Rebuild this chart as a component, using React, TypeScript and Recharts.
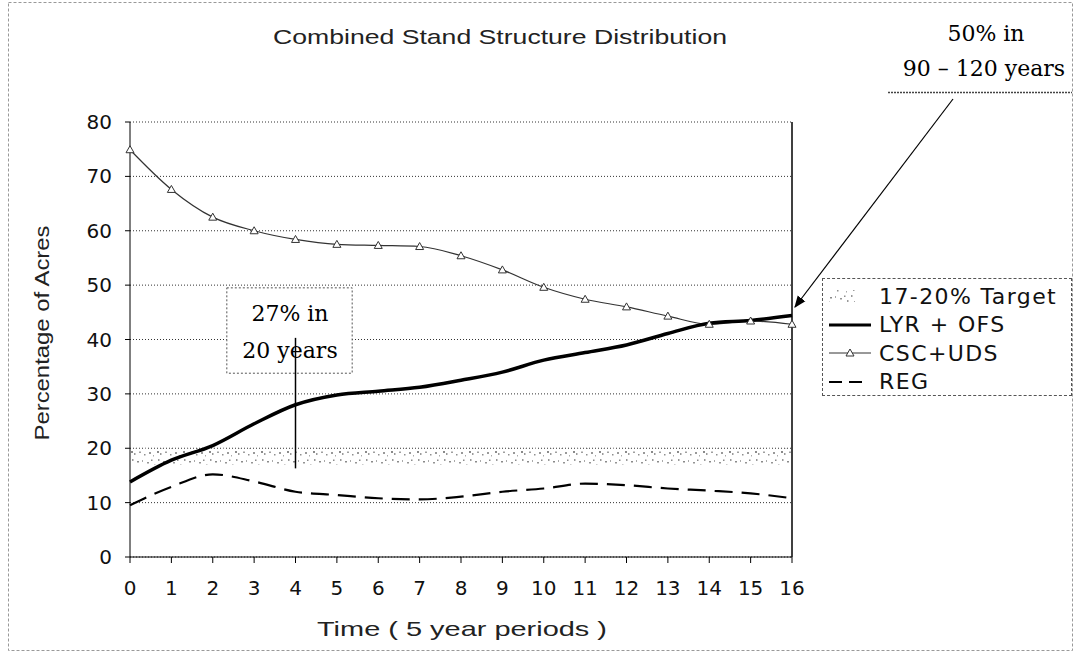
import {
  ComposedChart,
  Line,
  Area,
  XAxis,
  YAxis,
  CartesianGrid,
  ReferenceLine,
  ReferenceArea,
  Legend,
} from "recharts";

const periods = [0, 1, 2, 3, 4, 5, 6, 7, 8, 9, 10, 11, 12, 13, 14, 15, 16];
const lyrOfs = [13.8, 17.8, 20.5, 24.5, 28, 29.8, 30.5, 31.2, 32.5, 34, 36.2, 37.6, 39, 41.1, 43, 43.5, 44.4];
const cscUds = [74.9, 67.6, 62.5, 60, 58.4, 57.5, 57.3, 57.1, 55.4, 52.8, 49.6, 47.4, 46, 44.3, 42.8, 43.4, 42.8];
const reg = [9.5, 12.9, 15.2, 13.9, 12, 11.4, 10.8, 10.6, 11.1, 12, 12.6, 13.5, 13.2, 12.6, 12.2, 11.7, 10.8];
const targetRange = [17, 20];
const yTicks = [0, 10, 20, 30, 40, 50, 60, 70, 80];

const data = periods.map((p, i) => ({
  period: p,
  lyr: lyrOfs[i],
  csc: cscUds[i],
  reg: reg[i],
  target: targetRange,
}));

const legendItems = [
  { key: "target", label: "17-20% Target" },
  { key: "lyr", label: "LYR + OFS" },
  { key: "csc", label: "CSC+UDS" },
  { key: "reg", label: "REG" },
];

const sans = "'Liberation Sans', Arial, sans-serif";
const round = "'DejaVu Sans', sans-serif";
const serif = "'DejaVu Serif', serif";

function Triangle(props: any) {
  const { cx, cy } = props;
  if (cx == null || cy == null) return null;
  return (
    <path
      d={`M${cx},${cy - 4} L${cx + 4},${cy + 3} L${cx - 4},${cy + 3} Z`}
      fill="#fff"
      stroke="#333"
      strokeWidth={1}
    />
  );
}

function LegendIcon({ kind }: { kind: string }) {
  if (kind === "target")
    return <rect x={6} y={4} width={26} height={12} fill="url(#speckle)" />;
  if (kind === "lyr")
    return <line x1={6} x2={48} y1={10} y2={10} stroke="#000" strokeWidth={3} />;
  if (kind === "csc")
    return (
      <g>
        <line x1={6} x2={48} y1={10} y2={10} stroke="#333" strokeWidth={1} />
        <Triangle cx={27} cy={10} />
      </g>
    );
  return (
    <line x1={6} x2={46} y1={10} y2={10} stroke="#000" strokeWidth={2} strokeDasharray="13 7" />
  );
}

function LegendBox() {
  return (
    <div
      style={{
        width: 250,
        height: 118,
        boxSizing: "border-box",
        border: "1px dashed #555",
        background: "#fff",
        paddingTop: 3,
        fontFamily: round,
        fontSize: 22,
        letterSpacing: 1.4,
        color: "#111",
      }}
    >
      {legendItems.map((item) => (
        <div key={item.key} style={{ display: "flex", alignItems: "center", height: 28.5 }}>
          <svg width={56} height={20} style={{ flex: "none" }}>
            <LegendIcon kind={item.key} />
          </svg>
          <span style={{ whiteSpace: "nowrap" }}>{item.label}</span>
        </div>
      ))}
    </div>
  );
}

export default function App() {
  return (
    <div style={{ position: "absolute", left: 0, top: 0, width: 1077, height: 655, background: "#fff" }}>
      <svg width={0} height={0} style={{ position: "absolute" }}>
        <defs>
          <pattern id="speckle" width="26" height="18" patternUnits="userSpaceOnUse">
            <rect x="1" y="1" width="2" height="2" fill="#8a8a8a" />
            <rect x="4" y="3" width="1.5" height="2" fill="#9a9a9a" />
            <rect x="9" y="1.5" width="2" height="1.5" fill="#a0a0a0" />
            <rect x="14" y="4" width="1.5" height="1.5" fill="#8f8f8f" />
            <rect x="19" y="2" width="2" height="2" fill="#999" />
            <rect x="23" y="5" width="1" height="1.5" fill="#aaa" />
            <rect x="2" y="9" width="1.5" height="2" fill="#999" />
            <rect x="7" y="11" width="2" height="1.5" fill="#8a8a8a" />
            <rect x="12" y="10" width="1" height="2" fill="#aaa" />
            <rect x="17" y="12" width="2" height="1.5" fill="#959595" />
            <rect x="21" y="9.5" width="1.5" height="1.5" fill="#8c8c8c" />
            <rect x="5" y="15" width="1.5" height="1.5" fill="#a5a5a5" />
            <rect x="15" y="16" width="1" height="1" fill="#aaa" />
            <rect x="24" y="14" width="1.5" height="2" fill="#999" />
          </pattern>
          <marker id="arrowHead" markerWidth="10" markerHeight="10" refX="9" refY="5" orient="auto">
            <path d="M0,1 L10,5 L0,9 Z" fill="#000" />
          </marker>
        </defs>
      </svg>

      <ComposedChart
        width={1077}
        height={655}
        data={data}
        margin={{ top: 122, right: 285, bottom: 0, left: 0 }}
      >
        <CartesianGrid vertical={false} stroke="#333" strokeDasharray="1 2" />
        <XAxis
          dataKey="period"
          type="number"
          domain={[0, 16]}
          ticks={periods}
          interval={0}
          height={98}
          stroke="#000"
          tickSize={6}
          tickMargin={18}
          tick={{ fill: "#111", fontSize: 20, fontFamily: round }}
        />
        <YAxis
          domain={[0, 80]}
          ticks={yTicks}
          width={130}
          stroke="#000"
          tickSize={5}
          tickMargin={13}
          tick={{ fill: "#111", fontSize: 20, fontFamily: round }}
        />
        <ReferenceLine x={16} stroke="#000" strokeWidth={1.5} />
        <Area
          dataKey="target"
          type="linear"
          stroke="none"
          fill="url(#speckle)"
          fillOpacity={1}
          isAnimationActive={false}
        />
        <Line
          dataKey="reg"
          type="monotone"
          stroke="#000"
          strokeWidth={2.2}
          strokeDasharray="18 9"
          dot={false}
          isAnimationActive={false}
        />
        <Line
          dataKey="csc"
          type="monotone"
          stroke="#333"
          strokeWidth={1.2}
          dot={<Triangle />}
          isAnimationActive={false}
        />
        <Line
          dataKey="lyr"
          type="monotone"
          stroke="#000"
          strokeWidth={3.5}
          dot={false}
          isAnimationActive={false}
        />
        <ReferenceArea
          x1={2.34}
          x2={5.37}
          y1={33.8}
          y2={49.5}
          fill="#fff"
          fillOpacity={1}
          stroke="#555"
          strokeDasharray="2 2"
          ifOverflow="visible"
          zIndex={500}
        />
        <ReferenceLine
          segment={[
            { x: 4, y: 16.3 },
            { x: 4, y: 40.3 },
          ]}
          stroke="#000"
          strokeWidth={1.5}
          zIndex={1500}
        />
        <Legend
          layout="vertical"
          align="center"
          verticalAlign="middle"
          wrapperStyle={{ left: 822, top: 278, width: 250, height: 118 }}
          content={() => <LegendBox />}
        />
      </ComposedChart>

      <svg
        width={1077}
        height={655}
        style={{ position: "absolute", left: 0, top: 0, pointerEvents: "none" }}
      >
        <rect x={8.5} y={2.5} width={1064} height={648} fill="none" stroke="#999" strokeDasharray="3 2" />
        <text x={500} y={44} textAnchor="middle" fontFamily={sans} fontSize={21} fill="#222" textLength={454} lengthAdjust="spacingAndGlyphs">
          Combined Stand Structure Distribution
        </text>
        <text
          transform="translate(49,333) rotate(-90)"
          textAnchor="middle"
          fontFamily={sans}
          fontSize={21}
          fill="#222"
          textLength={215}
          lengthAdjust="spacingAndGlyphs"
        >
          Percentage of Acres
        </text>
        <text x={462} y={636} textAnchor="middle" fontFamily={sans} fontSize={21} fill="#222" textLength={290} lengthAdjust="spacingAndGlyphs">
          Time ( 5 year periods )
        </text>

        <text x={290} y={321} textAnchor="middle" fontFamily={serif} fontSize={22} fill="#000">
          27% in
        </text>
        <text x={290} y={358} textAnchor="middle" fontFamily={serif} fontSize={22} fill="#000">
          20 years
        </text>

        <text x={986} y={41} textAnchor="middle" fontFamily={serif} fontSize={22} fill="#000">
          50% in
        </text>
        <text x={984} y={76} textAnchor="middle" fontFamily={serif} fontSize={22} fill="#000">
          90 – 120 years
        </text>
        <line x1={888} x2={1072} y1={92.5} y2={92.5} stroke="#444" strokeWidth={1.5} strokeDasharray="2 1" />
        <line x1={953} y1={99} x2={795} y2={307} stroke="#000" strokeWidth={1.2} markerEnd="url(#arrowHead)" />
      </svg>
    </div>
  );
}
